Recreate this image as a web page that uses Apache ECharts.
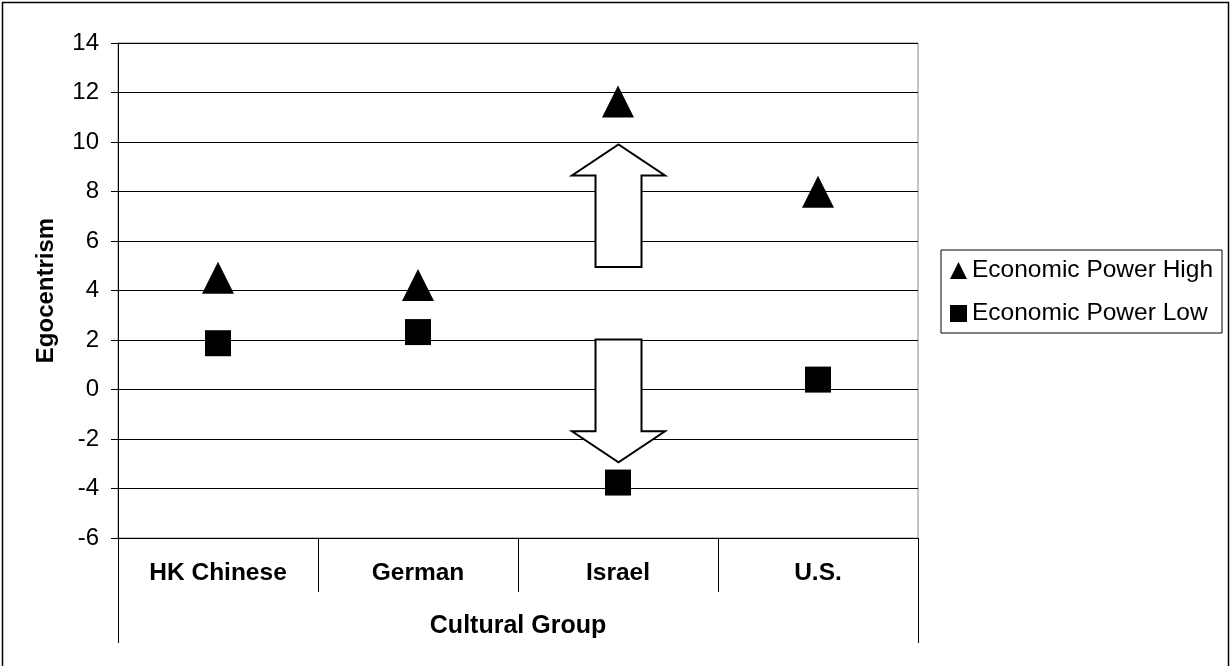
<!DOCTYPE html>
<html>
<head>
<meta charset="utf-8">
<script src="https://cdn.jsdelivr.net/npm/echarts@6/dist/echarts.min.js"></script>
<style>
html,body{margin:0;padding:0;background:#fff;}
#chart{width:1231px;height:666px;}
</style>
</head>
<body>
<div id="chart"></div>
<script>
// ---- data ----
const categories = ['HK Chinese', 'German', 'Israel', 'U.S.'];
const highValues = [4.52, 4.22, 11.64, 7.99];
const lowValues = [1.87, 2.32, -3.76, 0.40];
const seriesNames = ['Economic Power High', 'Economic Power Low'];
const outerCategory = ['Cultural Group'];
const yTitle = 'Egocentrism';
// arrows: [category, start value, tip value]
const arrowData = [
  ['Israel', 4.95, 9.9],
  ['Israel', 2.02, -2.94]
];

const FONT = "'Liberation Sans', Arial, sans-serif";
const chart = echarts.init(document.getElementById('chart'), null, {renderer: 'canvas'});

function renderArrow(params, api) {
  const cat = categories.indexOf(arrowData[params.dataIndex][0]);
  const p0 = api.coord([cat, api.value(1)]);
  const p1 = api.coord([cat, api.value(2)]);
  const dir = p1[1] < p0[1] ? -1 : 1;
  const cx = p0[0] + 0.5;
  const shaftHalf = 23;
  const headHalf = 46.5;
  const headLen = 31;
  const baseY = p1[1] - dir * headLen;
  const pts = [
    [cx - shaftHalf, p0[1]],
    [cx - shaftHalf, baseY],
    [cx - headHalf, baseY],
    [cx, p1[1]],
    [cx + headHalf, baseY],
    [cx + shaftHalf, baseY],
    [cx + shaftHalf, p0[1]]
  ];
  return {
    type: 'polygon',
    shape: {points: pts},
    style: {fill: '#fff', stroke: '#000', lineWidth: 2}
  };
}

const option = {
  backgroundColor: '#fff',
  animation: false,
  textStyle: {fontFamily: FONT, color: '#000'},
  grid: {
    left: 118, right: 313, top: 43, bottom: 128,
    show: true, borderColor: '#888', borderWidth: 1, backgroundColor: 'transparent'
  },
  legend: {
    orient: 'vertical',
    left: 941, top: 250,
    padding: [8, 9, 7, 9],
    itemGap: 18,
    itemWidth: 17, itemHeight: 17,
    itemStyle: {color: '#000', opacity: 1},
    borderColor: '#000', borderWidth: 1,
    textStyle: {fontFamily: FONT, fontSize: 24.5, color: '#000'},
    data: [
      {name: seriesNames[0], icon: 'triangle'},
      {name: seriesNames[1], icon: 'rect'}
    ]
  },
  xAxis: [
    {
      type: 'category',
      data: categories,
      boundaryGap: true,
      position: 'bottom',
      axisLine: {show: true, onZero: false, lineStyle: {color: '#000', width: 1}},
      axisTick: {show: true, interval: 0, length: 54, alignWithLabel: false, lineStyle: {color: '#000', width: 1}},
      axisLabel: {interval: 0, margin: 23, fontFamily: FONT, fontSize: 24.5, fontWeight: 'bold', color: '#000'},
      splitLine: {show: false}
    },
    {
      type: 'category',
      data: outerCategory,
      boundaryGap: true,
      position: 'bottom',
      offset: 54,
      axisLine: {show: false, onZero: false},
      axisTick: {show: true, interval: 0, length: 51, alignWithLabel: false, lineStyle: {color: '#000', width: 1}},
      axisLabel: {interval: 0, margin: 22, fontFamily: FONT, fontSize: 25, fontWeight: 'bold', color: '#000'},
      splitLine: {show: false}
    }
  ],
  yAxis: {
    type: 'value',
    min: -6, max: 14, interval: 2,
    name: yTitle,
    nameLocation: 'middle',
    nameRotate: 90,
    nameGap: 60,
    nameTextStyle: {fontFamily: FONT, fontSize: 24, fontWeight: 'bold', color: '#000'},
    axisLine: {show: true, lineStyle: {color: '#000', width: 1}},
    axisTick: {show: true, inside: false, length: 7, lineStyle: {color: '#000', width: 1}},
    axisLabel: {margin: 19, fontFamily: FONT, fontSize: 24, color: '#000'},
    splitLine: {show: true, lineStyle: {color: '#000', width: 1}}
  },
  series: [
    {
      name: seriesNames[0],
      type: 'scatter',
      xAxisIndex: 0,
      symbol: 'triangle',
      symbolSize: [32, 32],
      itemStyle: {color: '#000', opacity: 1},
      data: highValues,
      z: 5
    },
    {
      name: seriesNames[1],
      type: 'scatter',
      xAxisIndex: 0,
      symbol: 'rect',
      symbolSize: [26, 26],
      itemStyle: {color: '#000', opacity: 1},
      data: lowValues,
      z: 5
    },
    {
      name: 'arrows',
      type: 'custom',
      xAxisIndex: 0,
      renderItem: renderArrow,
      encode: {x: 0, y: [1, 2]},
      data: arrowData,
      z: 4
    }
  ],
  graphic: [
    {
      type: 'rect',
      silent: true,
      shape: {x: 2.5, y: 2.5, width: 1226, height: 700},
      style: {fill: 'none', stroke: '#000', lineWidth: 1.5},
      z: 100
    }
  ]
};
chart.setOption(option);
</script>
</body>
</html>
